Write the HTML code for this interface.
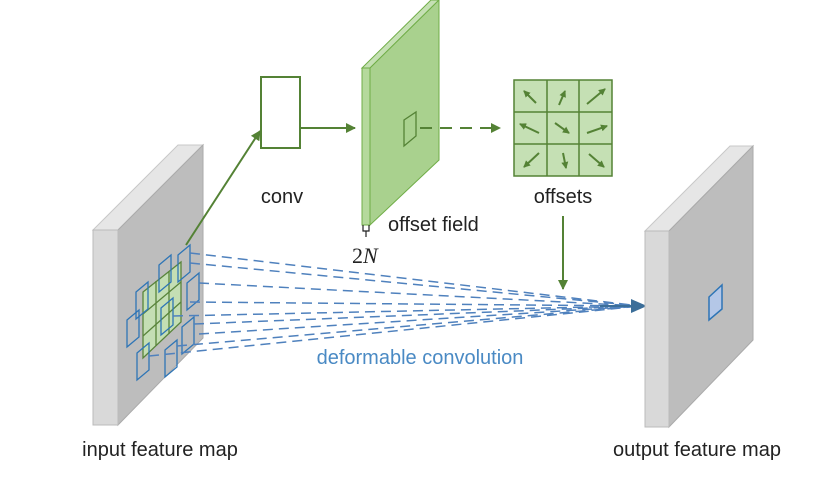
<!DOCTYPE html>
<html><head><style>body{margin:0;background:#fff}svg{display:block}</style></head><body>
<svg width="832" height="478" viewBox="0 0 832 478" xmlns="http://www.w3.org/2000/svg" font-family="Liberation Sans, sans-serif">
<defs>
<marker id="ga" markerWidth="10" markerHeight="10" refX="9" refY="5" orient="auto" markerUnits="userSpaceOnUse"><path d="M0,0 L10,5 L0,10 z" fill="#548235"/></marker>
<marker id="sa" markerWidth="7" markerHeight="7" refX="6" refY="3.5" orient="auto" markerUnits="userSpaceOnUse"><path d="M0,0 L7,3.5 L0,7 z" fill="#548235"/></marker>
<marker id="ba" markerWidth="16" markerHeight="14" refX="15" refY="7" orient="auto" markerUnits="userSpaceOnUse"><path d="M0,0 L16,7 L0,14 z" fill="#3b6e99"/></marker>
</defs>
<!-- input map -->
<polygon points="93,230 178,145 203,145 118,230" fill="#e6e6e6" stroke="#c8c8c8"/>
<polygon points="118,230 203,145 203,338 118,425" fill="#bdbdbd" stroke="#aaa"/>
<rect x="93" y="230" width="25" height="195" fill="#d9d9d9" stroke="#bbb"/>
<!-- green grid on input -->
<g stroke="#548235" stroke-width="1.3" fill="#c5e0b4" opacity="0.95">
<polygon points="143,292 181,262 181,322 143,358"/>
<line x1="156" y1="281" x2="156" y2="346"/><line x1="169" y1="271" x2="169" y2="334"/>
<line x1="143" y1="314" x2="181" y2="282"/><line x1="143" y1="336" x2="181" y2="302"/>
</g>
<!-- blue squares -->
<g fill="none" stroke="#2e75b6" stroke-width="1.3">
<polygon points="136,292 148,282 148,309 136,319"/>
<polygon points="159,265 171,255 171,282 159,292"/>
<polygon points="178,255 190,245 190,272 178,282"/>
<polygon points="127,320 139,310 139,337 127,347"/>
<polygon points="161,308 173,298 173,325 161,335"/>
<polygon points="187,283 199,273 199,300 187,310"/>
<polygon points="137,353 149,343 149,370 137,380"/>
<polygon points="165,350 177,340 177,367 165,377"/>
<polygon points="182,327 194,317 194,344 182,354"/>
</g>
<!-- dashed lines -->
<g stroke="#4f81bd" stroke-width="1.5" stroke-dasharray="10,6" fill="none">
<line x1="190" y1="253" x2="640" y2="306"/>
<line x1="190" y1="263" x2="640" y2="306"/>
<line x1="199" y1="283" x2="640" y2="306"/>
<line x1="190" y1="302" x2="640" y2="306"/>
<line x1="173" y1="316" x2="640" y2="306"/>
<line x1="194" y1="324" x2="640" y2="306"/>
<line x1="199" y1="334" x2="640" y2="306"/>
<line x1="177" y1="346" x2="640" y2="306"/>
<line x1="149" y1="356" x2="640" y2="306"/>
</g>
<line x1="600" y1="306" x2="646" y2="306" stroke="#3b6e99" stroke-width="2" marker-end="url(#ba)"/>
<!-- green arrow input->conv -->
<line x1="186" y1="245" x2="260" y2="131" stroke="#548235" stroke-width="2" marker-end="url(#ga)"/>
<!-- conv -->
<rect x="261" y="77" width="39" height="71" fill="#fff" stroke="#548235" stroke-width="2"/>
<text x="282" y="203" font-size="20" text-anchor="middle" fill="#222">conv</text>
<line x1="300" y1="128" x2="355" y2="128" stroke="#548235" stroke-width="2" marker-end="url(#ga)"/>
<!-- offset field -->
<polygon points="362,68 431,0 439,0 370,68" fill="#c5e0b4" stroke="#70ad47"/>
<polygon points="370,68 439,0 439,160 370,225" fill="#a9d18e" stroke="#70ad47"/>
<rect x="362" y="68" width="8" height="157" fill="#b5d99c" stroke="#70ad47"/>
<polygon points="404,120 416,112 416,136 404,146" fill="none" stroke="#548235" stroke-width="1.3"/>
<path d="M363,225 v6 h6 v-6 M366,231 v6" fill="none" stroke="#222" stroke-width="1.2"/>
<text x="352" y="263" font-size="22" font-family="Liberation Serif, serif" fill="#222">2<tspan font-style="italic">N</tspan></text>
<text x="388" y="231" font-size="20" fill="#222">offset field</text>
<line x1="420" y1="128" x2="500" y2="128" stroke="#548235" stroke-width="2" stroke-dasharray="12,8" marker-end="url(#ga)"/>
<!-- offsets grid -->
<g stroke="#548235" stroke-width="1.5" fill="#c5e0b4">
<rect x="514" y="80" width="98" height="96"/>
<line x1="547" y1="80" x2="547" y2="176"/><line x1="579" y1="80" x2="579" y2="176"/>
<line x1="514" y1="112" x2="612" y2="112"/><line x1="514" y1="144" x2="612" y2="144"/>
</g>
<g stroke="#548235" stroke-width="2">
<line x1="536" y1="103" x2="524" y2="91" marker-end="url(#sa)"/>
<line x1="559" y1="105" x2="565" y2="91" marker-end="url(#sa)"/>
<line x1="587" y1="104" x2="605" y2="89" marker-end="url(#sa)"/>
<line x1="539" y1="133" x2="520" y2="124" marker-end="url(#sa)"/>
<line x1="555" y1="123" x2="569" y2="133" marker-end="url(#sa)"/>
<line x1="587" y1="133" x2="607" y2="126" marker-end="url(#sa)"/>
<line x1="539" y1="153" x2="524" y2="167" marker-end="url(#sa)"/>
<line x1="563" y1="153" x2="566" y2="168" marker-end="url(#sa)"/>
<line x1="589" y1="154" x2="604" y2="167" marker-end="url(#sa)"/>
</g>
<text x="563" y="203" font-size="20" text-anchor="middle" fill="#222">offsets</text>
<line x1="563" y1="216" x2="563" y2="289" stroke="#548235" stroke-width="2" marker-end="url(#ga)"/>
<!-- output map -->
<polygon points="645,231 730,146 753,146 669,231" fill="#e6e6e6" stroke="#c8c8c8"/>
<polygon points="669,231 753,146 753,340 669,427" fill="#bdbdbd" stroke="#aaa"/>
<rect x="645" y="231" width="24" height="196" fill="#d9d9d9" stroke="#bbb"/>
<polygon points="709,297 722,285 722,309 709,320" fill="#b4c7e7" stroke="#2e75b6" stroke-width="1.5"/>
<text x="420" y="364" font-size="20" text-anchor="middle" fill="#4a8ac4">deformable convolution</text>
<text x="160" y="456" font-size="20" text-anchor="middle" fill="#222">input feature map</text>
<text x="697" y="456" font-size="20" text-anchor="middle" fill="#222">output feature map</text>
</svg>
</body></html>
